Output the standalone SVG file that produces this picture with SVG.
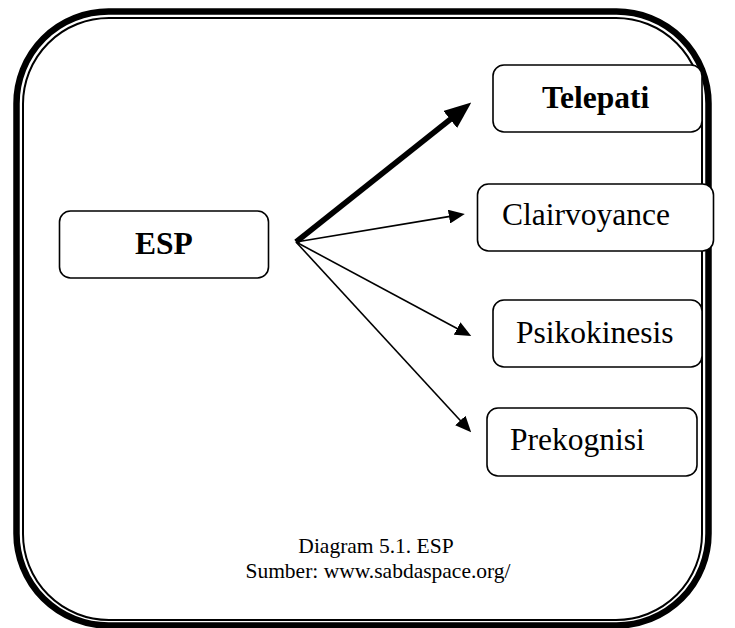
<svg xmlns="http://www.w3.org/2000/svg" width="735" height="628" viewBox="0 0 735 628">
<style>
.box{fill:#fff;stroke:#000;stroke-width:1.6}
.t{font-family:"Liberation Serif","Times New Roman",serif;font-size:31.5px;fill:#000}
.b{font-weight:bold}
.cap{font-family:"Liberation Serif","Times New Roman",serif;font-size:21.5px;fill:#000}
.thin{stroke:#000;stroke-width:1.6;fill:none}
.thick{stroke:#000;stroke-width:5.5;fill:none}
</style>
<defs>
<marker id="hThin" markerUnits="userSpaceOnUse" viewBox="0 0 16 14" markerWidth="16" markerHeight="14" refX="1" refY="7" orient="auto">
<path d="M0,0 L16,7 L0,14 z" fill="#000"/>
</marker>
<marker id="hThick" markerUnits="userSpaceOnUse" viewBox="0 0 27 22" markerWidth="27" markerHeight="22" refX="1" refY="11" orient="auto">
<path d="M0,0 L27,11 L0,22 z" fill="#000"/>
</marker>
</defs>
<rect width="735" height="628" fill="#fff"/>
<g id="frame">
<rect x="16.5" y="11.5" width="692" height="614" rx="92" ry="92" fill="none" stroke="#000" stroke-width="6.5"/>
<rect x="23" y="18" width="679" height="602" rx="86" ry="86" fill="none" stroke="#000" stroke-width="2"/>
</g>
<g id="connectors">
<line class="thick" x1="296" y1="242" x2="452" y2="118"/>
<line class="thin" x1="296" y1="242" x2="450" y2="216.4" marker-end="url(#hThin)"/>
<line class="thin" x1="296" y1="242" x2="458" y2="329" marker-end="url(#hThin)"/>
<line class="thin" x1="296" y1="242" x2="461" y2="421.2" marker-end="url(#hThin)"/>
<line x1="450" y1="119.6" x2="451" y2="118.8" stroke="none" marker-end="url(#hThick)"/>
</g>
<g id="esp">
<rect class="box" x="59.5" y="211" width="209" height="67" rx="11"/>
<text class="t b" x="135" y="254">ESP</text>
</g>
<g id="telepati">
<rect class="box" x="493" y="65" width="209" height="67" rx="11"/>
<text class="t b" x="542" y="108">Telepati</text>
</g>
<g id="clairvoyance">
<rect class="box" x="477.5" y="184" width="236" height="67" rx="11"/>
<text class="t" x="502" y="225">Clairvoyance</text>
</g>
<g id="psikokinesis">
<rect class="box" x="493" y="300" width="209" height="67" rx="11"/>
<text class="t" x="516" y="343">Psikokinesis</text>
</g>
<g id="prekognisi">
<rect class="box" x="487" y="408" width="210" height="68" rx="11"/>
<text class="t" x="510" y="450">Prekognisi</text>
</g>
<g id="caption">
<text class="cap" x="376" y="553" text-anchor="middle">Diagram 5.1. ESP</text>
<text class="cap" x="378" y="578" text-anchor="middle">Sumber: www.sabdaspace.org/</text>
</g>
</svg>
